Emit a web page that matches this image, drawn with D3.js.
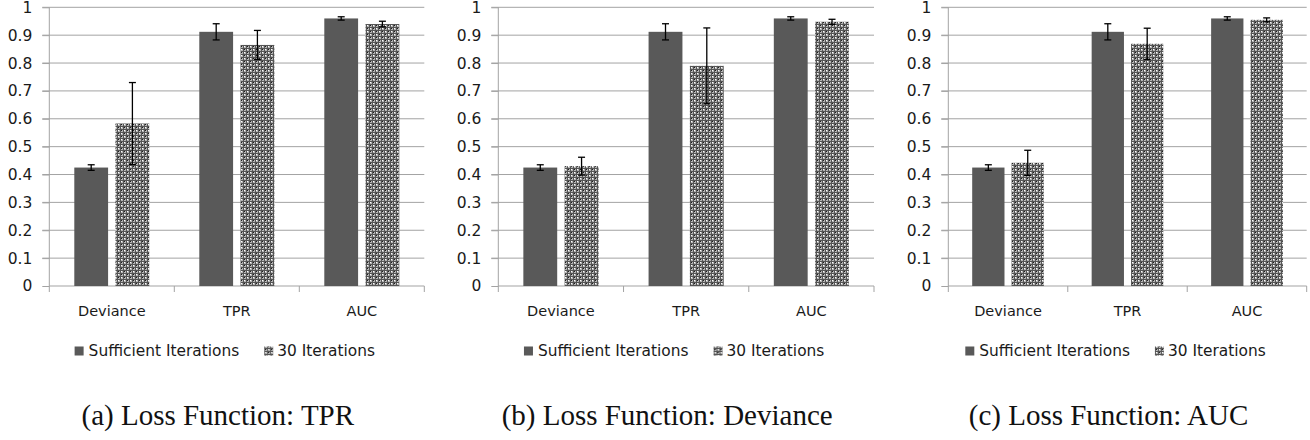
<!DOCTYPE html>
<html>
<head>
<meta charset="utf-8">
<script src="https://cdn.jsdelivr.net/npm/d3@7"></script>
<style>
  html, body { margin: 0; padding: 0; background: #fff; }
  svg { display: block; }
</style>
</head>
<body>
<svg id="chart" width="1310" height="440"></svg>
<script>
// ---- data ----
const categories = ["Deviance", "TPR", "AUC"];
const seriesNames = ["Sufficient Iterations", "30 Iterations"];
const yTicks = [0, 0.1, 0.2, 0.3, 0.4, 0.5, 0.6, 0.7, 0.8, 0.9, 1];
const panelTitles = ["(a) Loss Function: TPR", "(b) Loss Function: Deviance", "(c) Loss Function: AUC"];

// Sufficient iterations (same in every panel)
const sufficientA = [0.425, 0.912, 0.960];
const sufficientErrA = [0.010, 0.029, 0.006];
const sufficientB = [0.425, 0.912, 0.960];
const sufficientErrB = [0.010, 0.029, 0.006];
const sufficientC = [0.425, 0.912, 0.960];
const sufficientErrC = [0.010, 0.029, 0.006];

// 30 iterations
const iter30A = [0.583, 0.865, 0.940];
const iter30ErrA = [0.147, 0.052, 0.010];
const iter30B = [0.430, 0.790, 0.948];
const iter30ErrB = [0.032, 0.136, 0.009];
const iter30C = [0.442, 0.869, 0.955];
const iter30ErrC = [0.045, 0.056, 0.007];

// ---- layout ----
const panels = [
  { x0: 49.3, x1: 424.3, suff: sufficientA, suffErr: sufficientErrA, it: iter30A, itErr: iter30ErrA, title: panelTitles[0] },
  { x0: 498.3, x1: 874, suff: sufficientB, suffErr: sufficientErrB, it: iter30B, itErr: iter30ErrB, title: panelTitles[1] },
  { x0: 948.3, x1: 1306.7, suff: sufficientC, suffErr: sufficientErrC, it: iter30C, itErr: iter30ErrC, title: panelTitles[2] }
];
const yTop = 7.3, yBottom = 286;
const gridColor = "#a3a3a3";
const barColor = "#595959";
const sansFont = "'DejaVu Sans', sans-serif";
const serifFont = "'Liberation Serif', 'Times New Roman', serif";

const svg = d3.select("#chart");
const defs = svg.append("defs");
const pat = defs.append("pattern")
  .attr("id", "checker").attr("patternUnits", "userSpaceOnUse")
  .attr("width", 6).attr("height", 6);
pat.append("rect").attr("width", 6).attr("height", 6).attr("fill", "#555555");
[[0, 0, "#ffffff"], [3, 0, "#1e1e1e"], [0, 3, "#1e1e1e"], [3, 3, "#ffffff"]].forEach(([cx, cy, dot]) => {
  pat.append("rect").attr("x", cx + 1).attr("y", cy + 1).attr("width", 2).attr("height", 2).attr("fill", "#b4b4b4");
  pat.append("rect").attr("x", cx + 1).attr("y", cy + 1).attr("width", 1).attr("height", 1).attr("fill", dot);
});

const y = d3.scaleLinear().domain([0, 1]).range([yBottom, yTop]);

panels.forEach((p) => {
  const g = svg.append("g");
  const x = d3.scaleBand().domain(categories).range([p.x0, p.x1]).padding(0);
  const bw = x.bandwidth();
  const xs = d3.scaleBand().domain([0, 1]).range([0.2 * bw, 0.8 * bw]).paddingInner(0.18).paddingOuter(0);

  // gridlines
  g.append("g").selectAll("line").data(yTicks.filter(d => d > 0)).join("line")
    .attr("x1", p.x0 - 7).attr("x2", p.x1)
    .attr("y1", d => y(d)).attr("y2", d => y(d))
    .attr("stroke", gridColor).attr("stroke-width", 1);

  // y axis
  const yAxis = g.append("g").attr("transform", `translate(${p.x0},0)`)
    .call(d3.axisLeft(y).tickValues(yTicks).tickSize(7).tickPadding(10).tickFormat(d => d3.format("")(+d.toFixed(1))));
  yAxis.select(".domain").attr("stroke", gridColor).attr("d", `M0,${yBottom}V${yTop}`);
  yAxis.selectAll(".tick line").attr("stroke", gridColor);
  yAxis.selectAll(".tick text").attr("fill", "#1a1a1a").style("font-family", sansFont).style("font-size", "15.5px");

  // x axis
  const xAxis = g.append("g").attr("transform", `translate(0,${yBottom})`)
    .call(d3.axisBottom(x).tickSize(0).tickPadding(20));
  xAxis.select(".domain").attr("stroke", gridColor).attr("d", `M${p.x0},0H${p.x1}`);
  xAxis.selectAll(".tick text").attr("fill", "#1a1a1a").style("font-family", sansFont).style("font-size", "14.5px");
  // category boundary ticks
  const bounds = categories.map(c => x(c)).concat([p.x1]);
  g.append("g").selectAll("line").data(bounds).join("line")
    .attr("x1", d => d).attr("x2", d => d)
    .attr("y1", yBottom).attr("y2", yBottom + 6)
    .attr("stroke", gridColor);

  // bars
  const rows = categories.map((c, i) => [
    { c, s: 0, v: p.suff[i], e: p.suffErr[i] },
    { c, s: 1, v: p.it[i], e: p.itErr[i] }
  ]).flat();

  g.append("g").selectAll("rect").data(rows).join("rect")
    .attr("x", d => x(d.c) + xs(d.s))
    .attr("width", xs.bandwidth())
    .attr("y", d => y(d.v))
    .attr("height", d => y(0) - y(d.v))
    .attr("fill", d => d.s === 0 ? barColor : "url(#checker)");

  // error bars
  const eb = g.append("g").attr("stroke", "#000").attr("stroke-width", 1.3);
  rows.forEach(d => {
    const cx = x(d.c) + xs(d.s) + xs.bandwidth() / 2;
    eb.append("line").attr("x1", cx).attr("x2", cx).attr("y1", y(d.v + d.e)).attr("y2", y(d.v - d.e));
    eb.append("line").attr("x1", cx - 3.5).attr("x2", cx + 3.5).attr("y1", y(d.v + d.e)).attr("y2", y(d.v + d.e));
    eb.append("line").attr("x1", cx - 3.5).attr("x2", cx + 3.5).attr("y1", y(d.v - d.e)).attr("y2", y(d.v - d.e));
  });

  // legend
  const lg = g.append("g");
  const it1 = lg.append("g");
  it1.append("rect").attr("x", 0).attr("y", -4.5).attr("width", 9).attr("height", 9).attr("fill", barColor);
  const t1 = it1.append("text").attr("x", 14).attr("y", 0).attr("dy", "0.35em")
    .text(seriesNames[0]).attr("fill", "#1a1a1a").style("font-family", sansFont).style("font-size", "15.4px");
  const w1 = t1.node().getComputedTextLength();
  const it2 = lg.append("g").attr("transform", `translate(${14 + w1 + 25},0)`);
  it2.append("rect").attr("x", 0).attr("y", -4.5).attr("width", 9).attr("height", 9).attr("fill", "url(#checker)");
  const t2 = it2.append("text").attr("x", 13).attr("y", 0).attr("dy", "0.35em")
    .text(seriesNames[1]).attr("fill", "#1a1a1a").style("font-family", sansFont).style("font-size", "15.4px");
  const w2 = t2.node().getComputedTextLength();
  const totalW = 14 + w1 + 25 + 13 + w2;
  const cxPlot = (p.x0 + p.x1) / 2 - 12;
  lg.attr("transform", `translate(${cxPlot - totalW / 2},351)`);

  // caption
  g.append("text").attr("x", (p.x0 + p.x1) / 2 - 19).attr("y", 425)
    .attr("text-anchor", "middle").attr("fill", "#111")
    .style("font-family", serifFont).style("font-size", "29px")
    .text(p.title);
});
</script>
</body>
</html>
